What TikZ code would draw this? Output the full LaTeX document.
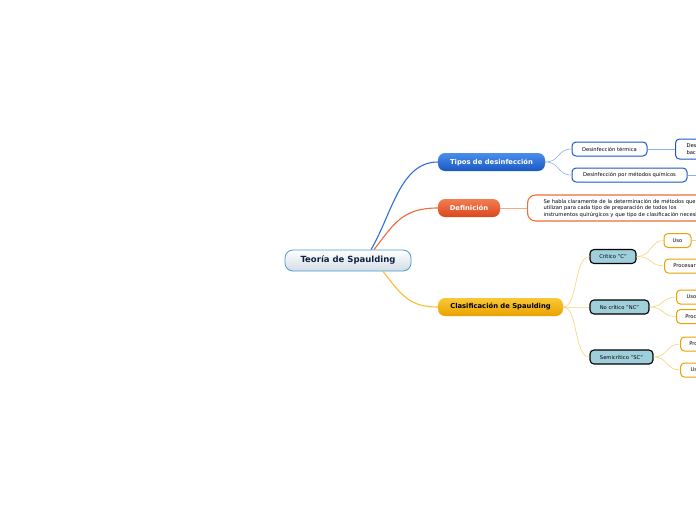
\documentclass[tikz,border=0pt]{standalone}
\usepackage{fontspec}
\setmainfont{DejaVu Sans}
\usetikzlibrary{positioning, calc}

\definecolor{rootline}{HTML}{4A9AD0}
\definecolor{rootfill}{HTML}{D3DCE6}
\definecolor{roottext}{HTML}{13213F}
\definecolor{tipostop}{HTML}{4A8EEA}
\definecolor{tiposbot}{HTML}{1A58C4}
\definecolor{tiposline}{HTML}{2C6FDD}
\definecolor{tiposthin}{HTML}{8CB2EE}
\definecolor{deftop}{HTML}{F47C52}
\definecolor{defbot}{HTML}{D9481E}
\definecolor{defline}{HTML}{F26B3A}
\definecolor{defthin}{HTML}{F6A88A}
\definecolor{clastop}{HTML}{FAC835}
\definecolor{clasbot}{HTML}{E9A200}
\definecolor{clasline}{HTML}{F9BE2E}
\definecolor{clasthin}{HTML}{F9D27A}
\definecolor{critfill}{HTML}{9FCFDB}

\tikzset{
    rootbox/.style={draw=rootline, line width=0.8pt, rounded corners=8pt,
        top color=white, bottom color=rootfill, text=roottext,
        minimum width=126pt, minimum height=21pt, inner sep=0pt,
        font=\fontsize{8.5}{9.5}\selectfont\bfseries},
    mainbox/.style={rounded corners=7pt, minimum height=18pt, inner sep=0pt,
        font=\fontsize{6.8}{7.8}\selectfont\bfseries},
    subbox/.style={draw=tiposbot, line width=1pt, fill=white, rounded corners=4pt,
        minimum height=14pt, inner sep=0pt, font=\fontsize{5.2}{6.2}\selectfont},
    critbox/.style={draw=black, line width=1.1pt, fill=critfill, rounded corners=4pt,
        minimum height=14pt, inner sep=0pt, font=\fontsize{5.2}{6.2}\selectfont},
    leafbox/.style={draw=clasbot, line width=1pt, fill=white, rounded corners=4pt,
        minimum height=14pt, inner sep=0pt, font=\fontsize{5.2}{6.2}\selectfont},
}

\begin{document}
\begin{tikzpicture}[x=1pt, y=-1pt]
    \useasboundingbox (0,0) rectangle (696,520);
    \fill[white] (0,0) rectangle (696,520);
    \clip (0,0) rectangle (696,520);

    % Central topic
    \node[rootbox] (root) at (348,260.5) {Teoría de Spaulding};

    % Main branches
    \node[mainbox, top color=tipostop, bottom color=tiposbot, text=white,
        minimum width=107pt] (tipos) at (491.5,162) {Tipos de desinfección};
    \node[mainbox, top color=deftop, bottom color=defbot, text=white,
        minimum width=62pt] (defin) at (469,208) {Definición};
    \node[mainbox, top color=clastop, bottom color=clasbot, text=black,
        minimum width=125pt] (clasif) at (500.5,307) {Clasificación de Spaulding};

    \draw[tiposline, line width=1.1pt] ([xshift=23pt]root.north) .. controls (392,214) and (400,162) .. (tipos.west);
    \draw[defline, line width=1.1pt] ([xshift=26pt]root.north) .. controls (394,224) and (402,208) .. (defin.west);
    \draw[clasline, line width=1.1pt] ([xshift=35pt]root.south) .. controls (402,296) and (410,307) .. (clasif.west);

    % Tipos de desinfeccion
    \node[subbox, minimum width=75pt] (termica) at (609.5,149) {Desinfección térmica};
    \node[subbox, minimum width=115pt] (quimicos) at (629.5,175) {Desinfección por métodos químicos};
    \node[subbox, anchor=west, minimum width=60pt, minimum height=20pt, align=left,
        inner xsep=11pt, text width=50pt] (bacter) at (675,149) {Desinfección\\bacteriana};
    \coordinate (quimfin) at (710,175);

    \draw[tiposthin, line width=0.6pt] (tipos.east) .. controls (560,162) and (557,149) .. (termica.west);
    \draw[tiposthin, line width=0.6pt] (tipos.east) .. controls (560,162) and (557,175) .. (quimicos.west);
    \draw[tiposthin, line width=0.6pt] (termica.east) -- (bacter.west);
    \draw[tiposthin, line width=0.6pt] (quimicos.east) -- (quimfin);

    % Definicion
    \node[draw=defline, line width=1.1pt, fill=white, rounded corners=8pt, anchor=west,
        minimum height=26pt, inner xsep=16pt, inner ysep=0pt, text width=200pt, align=left,
        font=\fontsize{5.2}{6.5}\selectfont] (deftext) at (527,208)
        {Se habla claramente de la determinación de métodos que se\\
         utilizan para cada tipo de preparación de todos los\\
         instrumentos quirúrgicos y que tipo de clasificación necesitan};
    \draw[defthin, line width=0.6pt] (defin.east) -- (deftext.west);

    % Clasificacion de Spaulding
    \node[critbox, minimum width=46pt] (critico) at (613,256.5) {Crítico "C"};
    \node[critbox, minimum width=59pt] (nocrit) at (619.5,307) {No crítico "NC"};
    \node[critbox, minimum width=63pt] (semi) at (621.5,357) {Semicrítico "SC"};

    \foreach \sub in {critico, nocrit, semi}
        \draw[clasthin, line width=0.6pt] (clasif.east) .. controls (578,307) and (574,0 |- \sub.west) .. (\sub.west);

    \node[leafbox, minimum width=27pt] (cuso) at (677.5,240.5) {Uso};
    \node[leafbox, anchor=west, minimum width=40pt] (cproc) at (664,266) {Procesar};
    \node[leafbox, anchor=west, minimum width=30pt] (nuso) at (676,297) {Uso};
    \node[leafbox, anchor=west, minimum width=40pt] (nproc) at (676,316.5) {Procesar};
    \node[leafbox, anchor=west, minimum width=40pt] (sproc) at (680,344) {Procesar};
    \node[leafbox, anchor=west, minimum width=30pt] (suso) at (680,370) {Uso};
    \coordinate (usofin) at (710,240.5);

    \draw[clasthin, line width=0.6pt] (critico.east) .. controls (652,256.5) and (650,240.5) .. (cuso.west);
    \draw[clasthin, line width=0.6pt] (critico.east) .. controls (652,256.5) and (650,266) .. (cproc.west);
    \draw[clasthin, line width=0.6pt] (nocrit.east) .. controls (664,307) and (662,297) .. (nuso.west);
    \draw[clasthin, line width=0.6pt] (nocrit.east) .. controls (664,307) and (662,316.5) .. (nproc.west);
    \draw[clasthin, line width=0.6pt] (semi.east) .. controls (668,357) and (666,344) .. (sproc.west);
    \draw[clasthin, line width=0.6pt] (semi.east) .. controls (668,357) and (666,370) .. (suso.west);
    \draw[clasthin, line width=0.6pt] (cuso.east) -- (usofin);
\end{tikzpicture}
\end{document}
